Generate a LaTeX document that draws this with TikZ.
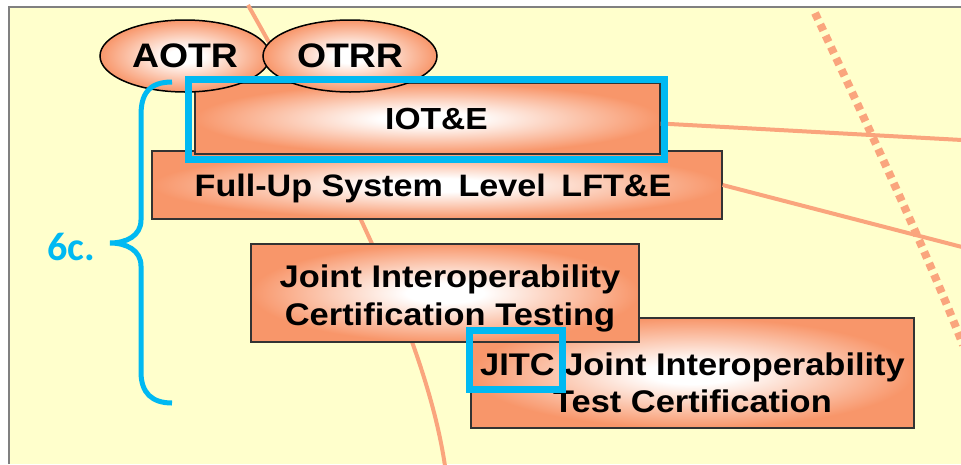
\documentclass[tikz,border=0pt]{standalone}
\usepackage{fontspec}
\setmainfont{Liberation Sans}[FakeStretch=1.1]
\newfontfamily\calfont{Carlito}[BoldFont={Carlito Bold}]
\usetikzlibrary{shapes.geometric}
\definecolor{salm}{RGB}{248,150,106}
\definecolor{olinec}{RGB}{250,165,125}
\definecolor{bgy}{RGB}{255,255,204}
\definecolor{hcyan}{RGB}{0,185,242}
\pgfdeclareradialshading{glow}{\pgfpoint{0bp}{0bp}}{color(0bp)=(white); color(5bp)=(white); color(25bp)=(salm); color(50bp)=(salm)}
\begin{document}
\begin{tikzpicture}[x=1pt,y=-1pt,
  box/.style={rectangle, draw=black!80, line width=1.2pt, shading=glow, inner sep=0pt, align=center, font=\bfseries},
  txt/.style={inner sep=0pt, align=center},
  ell/.style={ellipse, draw=black, line width=1.5pt, shading=glow, inner sep=0pt, font=\bfseries\fontsize{34}{40}\selectfont},
  hl/.style={draw=hcyan, line width=7pt},
  oln/.style={draw=olinec, line width=4pt},
  dotl/.style={draw=olinec, line width=8pt, dash pattern=on 7pt off 5.5pt},
  brace/.style={draw=hcyan, line width=5pt}]
\useasboundingbox (0,0) rectangle (961,464);
\fill[white] (0,0) rectangle (961,464);
\fill[bgy] (9,7) rectangle (961,464);
\draw[gray, line width=2pt] (9,464) -- (9,7) -- (961,7);

% background orange lines
\draw[oln] (248,5) .. controls (330,150) and (425,330) .. (445,466);
\draw[dotl] (815,13) .. controls (870,130) and (930,260) .. (963,345);

% boxes
\node[box, minimum width=570pt, minimum height=68pt, text depth=0pt, font=\bfseries\fontsize{31}{36}\selectfont] (fup) at (437,185) {\hspace{-8pt}Full-Up System\hspace{0.2em} Level\hspace{0.2em} LFT\&E};
\node[box, minimum width=465pt, minimum height=71pt, font=\bfseries\fontsize{30.5}{36}\selectfont] (iot) at (427.5,118.5) {\hspace{18pt}IOT\&E};
\node[ell, minimum width=170pt, minimum height=72pt] (aotr) at (185,56) {AOTR};
\node[ell, minimum width=174pt, minimum height=72pt] (otrr) at (350,56) {OTRR};
\node[box, minimum width=443pt, minimum height=110pt] (jitc) at (692.5,373) {};
\node[txt, font=\bfseries\fontsize{31.3}{36.5}\selectfont] (jitct) at ([yshift=-10pt]jitc.center) {JITC Joint Interoperability\\Test Certification};
\node[box, minimum width=388pt, minimum height=98pt] (jict) at (445,293) {};
\node[txt, font=\bfseries\fontsize{31.3}{38}\selectfont] (jictt) at ([xshift=5pt,yshift=-5pt]jict.center) {Joint Interoperability\\Certification Testing};

% connectors to the right
\coordinate (r1) at (962,140);
\coordinate (r2) at (962,247);
\draw[oln] ([yshift=-5pt]iot.east) -- (r1);
\draw[oln] (fup.east) -- (r2);

% highlights
\draw[hl] (188.5,79.5) rectangle (664.5,159.5);
\draw[hl] (469,330) rectangle (562,389);

% brace and label
\draw[brace] (172,82) .. controls (148,82) and (141,95) .. (141,115) -- (141,220)
  .. controls (141,236) and (126,243) .. (110,243)
  .. controls (126,243) and (141,250) .. (141,266) -- (141,372)
  .. controls (141,393) and (152,403) .. (172,403);
\node[text=hcyan, font=\calfont\bfseries\fontsize{40}{44}\selectfont, inner sep=0pt] (lbl) at (71,247) {6c.};
\end{tikzpicture}
\end{document}
